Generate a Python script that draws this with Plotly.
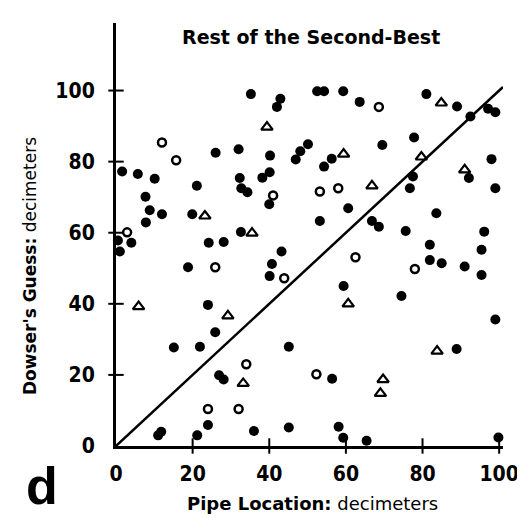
import plotly.graph_objects as go

# Filled circles (dowser guesses, solid)
filled_x = [26.0, 32.0, 1.6, 5.7, 10.1, 21.1, 32.3, 32.7, 34.3, 7.7, 8.8, 12.0, 7.8, 19.9,
            0.5, 4.0, 1.0, 24.2, 28.1, 32.6, 18.8, 35.2, 42.9, 42.0, 52.5, 54.3, 59.3, 63.6,
            40.2, 50.1, 48.1, 46.9, 56.3, 54.3, 40.1, 38.2, 40.0, 60.6, 53.2, 66.8, 68.6,
            43.2, 40.7, 81.0, 89.0, 92.5, 97.1, 99.0, 77.8, 69.5, 98.0, 92.1, 77.5, 76.7,
            99.0, 83.6, 75.6, 96.1, 81.9, 95.4, 81.9, 85.0, 91.0, 95.4, 74.5, 99.0, 88.9,
            24.0, 25.9, 15.1, 21.9, 26.9, 28.1, 24.0, 11.0, 11.8, 21.2, 59.4, 45.1, 56.4,
            36.0, 45.1, 58.1, 59.3, 65.4, 99.8, 40.1]
filled_y = [82.5, 83.5, 77.2, 76.5, 75.2, 73.2, 75.4, 72.5, 71.4, 70.1, 66.3, 65.2, 62.9, 65.2,
            57.8, 57.2, 54.7, 57.2, 57.4, 60.2, 50.3, 99.0, 97.7, 95.4, 99.8, 99.8, 99.8, 96.8,
            81.7, 84.9, 82.9, 80.6, 80.8, 78.6, 77.0, 75.5, 68.0, 66.9, 63.3, 63.3, 61.7,
            54.7, 51.2, 99.0, 95.5, 92.7, 94.9, 93.9, 86.8, 84.7, 80.7, 75.4, 75.8, 72.5,
            72.5, 65.5, 60.5, 60.3, 56.6, 55.2, 52.3, 51.4, 50.5, 48.1, 42.2, 35.6, 27.3,
            39.7, 32.0, 27.7, 27.9, 19.9, 18.7, 5.9, 3.0, 4.0, 3.0, 45.0, 27.9, 18.9,
            4.2, 5.2, 5.4, 2.3, 1.5, 2.4, 47.8]

# Open circles
open_x = [12.0, 15.7, 2.9, 25.9, 41.0, 53.2, 58.0, 62.5, 68.6, 78.0, 24.0, 32.0, 43.9, 34.0, 52.3]
open_y = [85.4, 80.4, 60.1, 50.3, 70.5, 71.6, 72.5, 53.1, 95.4, 49.8, 10.4, 10.4, 47.2, 23.0, 20.2]

# Open triangles
tri_x = [23.2, 39.4, 59.4, 35.5, 84.9, 79.7, 91.0, 66.8, 5.9, 29.2, 60.6, 33.2, 83.8, 69.7, 69.0]
tri_y = [64.7, 89.7, 82.1, 59.9, 96.5, 81.3, 77.7, 73.2, 39.2, 36.6, 40.0, 17.6, 26.7, 18.7, 14.8]

# Perfect-guess diagonal (y = x)
diag = [0, 101]

tick_vals = [0, 20, 40, 60, 80, 100]
tick_text = ["0", "20", "40", "60", "80", "100"]

BLACK = "#000000"
tick_font = dict(family="DejaVu Sans Condensed, DejaVu Sans", size=21, color=BLACK, weight="bold")

fig = go.Figure()

fig.add_trace(go.Scatter(x=diag, y=diag, mode="lines",
                         line=dict(color=BLACK, width=2.5), hoverinfo="skip", cliponaxis=False))

# tick crosses
fig.add_trace(go.Scatter(x=tick_vals[1:], y=[0] * 5, mode="markers", cliponaxis=False,
                         marker=dict(symbol="line-ns-open", size=11, color=BLACK,
                                     line=dict(color=BLACK, width=2))))
fig.add_trace(go.Scatter(x=[0] * 5, y=tick_vals[1:], mode="markers", cliponaxis=False,
                         marker=dict(symbol="line-ew-open", size=11, color=BLACK,
                                     line=dict(color=BLACK, width=2))))

fig.add_trace(go.Scatter(x=filled_x, y=filled_y, mode="markers", cliponaxis=False,
                         marker=dict(symbol="circle", size=10, color=BLACK, line=dict(width=0))))
fig.add_trace(go.Scatter(x=open_x, y=open_y, mode="markers", cliponaxis=False,
                         marker=dict(symbol="circle-open", size=8, color=BLACK,
                                     line=dict(color=BLACK, width=2.5))))
fig.add_trace(go.Scatter(x=tri_x, y=tri_y, mode="markers", cliponaxis=False,
                         marker=dict(symbol="triangle-up-open", size=10, color=BLACK,
                                     line=dict(color=BLACK, width=2.2))))

fig.update_layout(
    width=525, height=518,
    margin=dict(l=108, r=30, t=15, b=80),
    paper_bgcolor="white", plot_bgcolor="white",
    showlegend=False,
    xaxis=dict(range=[0, 101], showline=True, linecolor=BLACK, linewidth=2.5,
               showgrid=False, zeroline=False, ticks="", tickvals=tick_vals, ticktext=tick_text,
               tickfont=tick_font, ticklabelstandoff=7, fixedrange=True),
    yaxis=dict(range=[0, 119], showline=True, linecolor=BLACK, linewidth=3,
               showgrid=False, zeroline=False, ticks="", tickvals=tick_vals, ticktext=tick_text,
               tickfont=tick_font, ticklabelstandoff=14, fixedrange=True),
    annotations=[
        dict(text="<b>Rest of the Second-Best</b>", xref="paper", yref="paper", x=0.504, y=0.967,
             showarrow=False, xanchor="center", yanchor="middle",
             font=dict(family="DejaVu Sans", size=19, color=BLACK)),
        dict(text="<b>Pipe Location:</b> decimeters", xref="paper", yref="paper", x=0.509, y=-0.135,
             showarrow=False, xanchor="center", yanchor="middle",
             font=dict(family="DejaVu Sans", size=18, color=BLACK)),
        dict(text="<b>Dowser's Guess:</b> decimeters", xref="paper", yref="paper", x=-0.222, y=0.4255,
             showarrow=False, xanchor="center", yanchor="middle", textangle=-90,
             font=dict(family="DejaVu Sans", size=17, color=BLACK)),
        dict(text="<b>d</b>", xref="paper", yref="paper", x=-0.19, y=-0.095,
             showarrow=False, xanchor="center", yanchor="middle",
             font=dict(family="Liberation Sans", size=52, color=BLACK)),
    ],
)

fig.write_html("out.html")
